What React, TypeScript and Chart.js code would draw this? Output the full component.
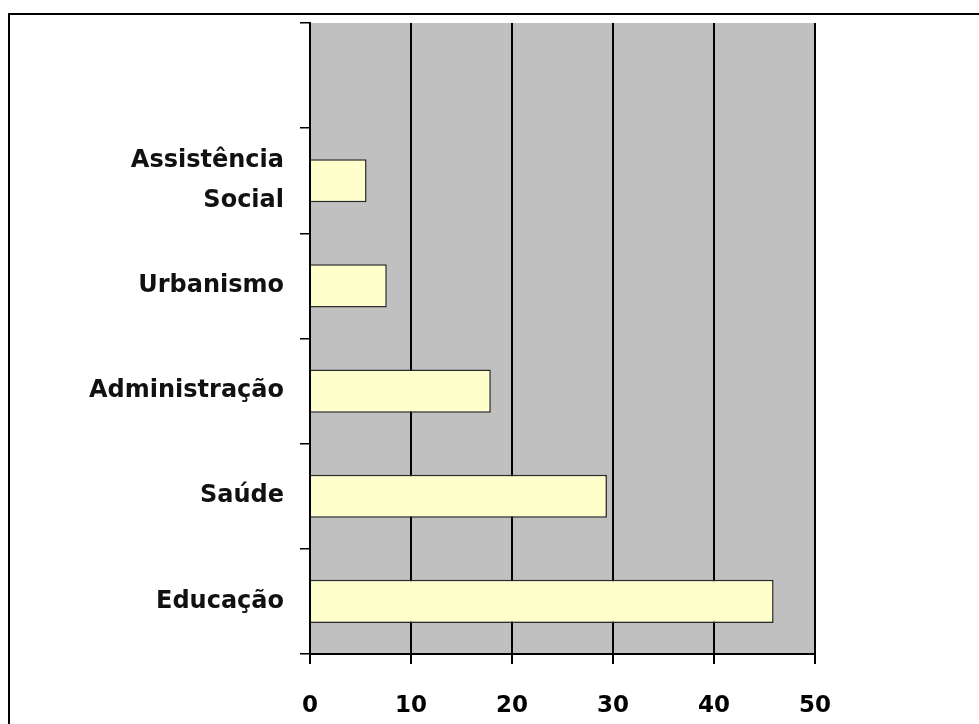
import React, { useEffect, useRef } from "react";
import { Chart, registerables } from "chart.js";

Chart.register(...registerables);

const categories: (string | string[])[] = ["", ["Assistência", "Social"], "Urbanismo", "Administração", "Saúde", "Educação"];
const values: (number | null)[] = [null, 5.6, 7.6, 17.9, 29.4, 45.9];
const xTicks: number[] = [0, 10, 20, 30, 40, 50];

const plotBg = {
  id: "plotBg",
  beforeDraw(chart: any) {
    const { ctx, chartArea } = chart;
    if (!chartArea) return;
    ctx.save();
    ctx.fillStyle = "#C0C0C0";
    ctx.fillRect(chartArea.left, chartArea.top, chartArea.right - chartArea.left, chartArea.bottom - chartArea.top);
    ctx.restore();
  },
};

export default function App() {
  const ref = useRef<HTMLCanvasElement | null>(null);
  useEffect(() => {
    if (!ref.current) return;
    const chart = new Chart(ref.current, {
      type: "bar",
      data: {
        labels: categories,
        datasets: [
          {
            data: values,
            backgroundColor: "#FFFFCC",
            borderColor: "#2a2a2a",
            borderWidth: 1.5,
            barPercentage: 0.41,
            categoryPercentage: 1,
          },
        ],
      },
      options: {
        indexAxis: "y",
        animation: false,
        responsive: false,
        layout: { padding: { top: 23, right: 164, left: 0, bottom: 0 } },
        plugins: { legend: { display: false }, tooltip: { enabled: false } },
        scales: {
          x: {
            min: 0,
            max: 50,
            afterBuildTicks: (scale: any) => {
              scale.ticks = xTicks.map((v) => ({ value: v }));
            },
            afterFit: (scale: any) => {
              scale.height = 70;
              scale.paddingLeft = 0;
              scale.paddingRight = 0;
            },
            grid: { color: "#000", lineWidth: 2, tickLength: 10, drawTicks: true },
            border: { display: true, color: "#000", width: 2 },
            ticks: {
              color: "#000",
              padding: 28,
              font: { family: "DejaVu Sans", weight: "bold", size: 23 },
            },
          },
          y: {
            afterFit: (scale: any) => {
              scale.width = 310;
              scale.paddingTop = 0;
              scale.paddingBottom = 0;
            },
            grid: { display: true, drawOnChartArea: false, color: "#000", lineWidth: 1.5, tickLength: 10, offset: true },
            border: { display: true, color: "#000", width: 2 },
            ticks: {
              color: "#111",
              padding: 16,
              font: { family: "DejaVu Sans", weight: "bold", size: 24, lineHeight: 1.7 },
            },
          },
        },
      },
      plugins: [plotBg],
    });
    return () => chart.destroy();
  }, []);

  return (
    <div>
      <canvas ref={ref} width={979} height={724} style={{ position: "fixed", left: 0, top: 0 }} />
      <div
        style={{
          position: "fixed",
          left: 8,
          top: 13,
          width: 1000,
          height: 800,
          border: "2px solid #000",
          pointerEvents: "none",
        }}
      />
    </div>
  );
}
